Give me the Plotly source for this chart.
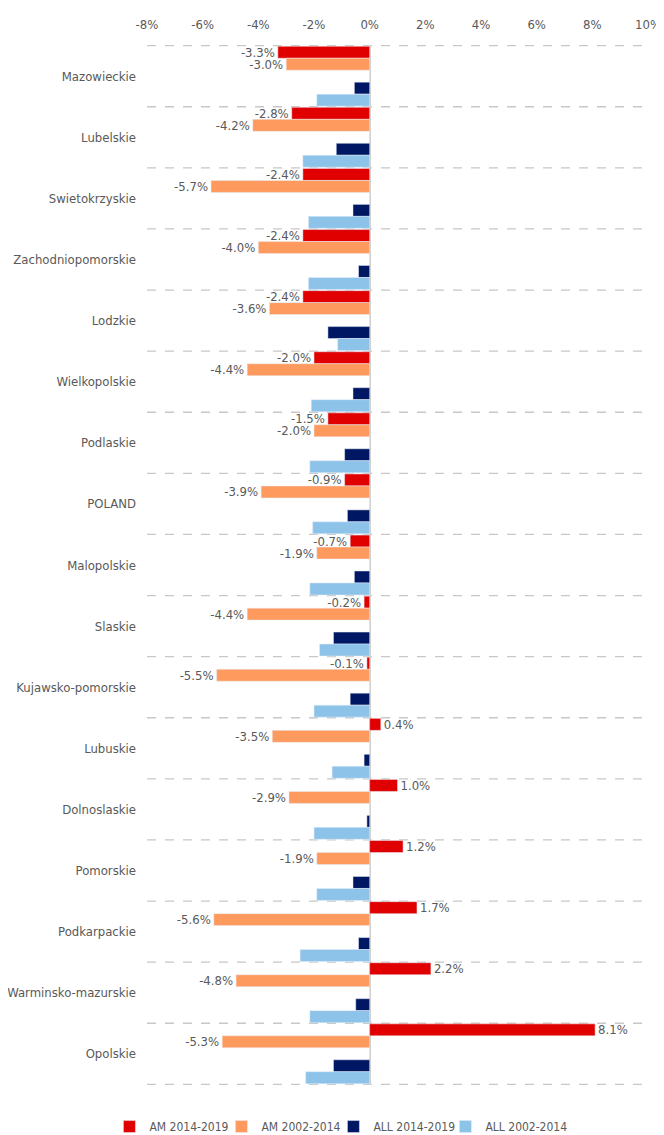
import plotly.graph_objects as go

regions = ["Mazowieckie", "Lubelskie", "Swietokrzyskie", "Zachodniopomorskie", "Lodzkie",
           "Wielkopolskie", "Podlaskie", "POLAND", "Malopolskie", "Slaskie",
           "Kujawsko-pomorskie", "Lubuskie", "Dolnoslaskie", "Pomorskie", "Podkarpackie",
           "Warminsko-mazurskie", "Opolskie"]

am_2014_2019 = [-3.3, -2.8, -2.4, -2.4, -2.4, -2.0, -1.5, -0.9, -0.7, -0.2, -0.1, 0.4, 1.0, 1.2, 1.7, 2.2, 8.1]
am_2002_2014 = [-3.0, -4.2, -5.7, -4.0, -3.6, -4.4, -2.0, -3.9, -1.9, -4.4, -5.5, -3.5, -2.9, -1.9, -5.6, -4.8, -5.3]
all_2014_2019 = [-0.55, -1.2, -0.6, -0.4, -1.5, -0.6, -0.9, -0.8, -0.55, -1.3, -0.7, -0.2, -0.1, -0.6, -0.4, -0.5, -1.3]
all_2002_2014 = [-1.9, -2.4, -2.2, -2.2, -1.15, -2.1, -2.15, -2.05, -2.15, -1.8, -2.0, -1.35, -2.0, -1.9, -2.5, -2.15, -2.3]

tick_vals = [-8, -6, -4, -2, 0, 2, 4, 6, 8, 10]
tick_text = ["-8%", "-6%", "-4%", "-2%", "0%", "2%", "4%", "6%", "8%", "10%"]

FONT = "DejaVu Sans Condensed, Liberation Sans Narrow, sans-serif"
TXT = "#595959"

def fmt(v):
    return f"{v:.1f}%"

fig = go.Figure()
fig.add_trace(go.Bar(y=regions, x=am_2014_2019, orientation="h", name="AM 2014-2019",
                     marker_color="#E00000", text=[fmt(v) for v in am_2014_2019],
                     textposition="outside", constraintext="none", cliponaxis=False,
                     textfont=dict(size=13, color=TXT, family=FONT)))
fig.add_trace(go.Bar(y=regions, x=am_2002_2014, orientation="h", name="AM 2002-2014",
                     marker_color="#FF9A5E", text=[fmt(v) for v in am_2002_2014],
                     textposition="outside", constraintext="none", cliponaxis=False,
                     textfont=dict(size=13, color=TXT, family=FONT)))
# empty spacer series (blank slot between AM and ALL pairs)
fig.add_trace(go.Bar(y=regions, x=[0] * len(regions), orientation="h", name="",
                     marker_color="rgba(0,0,0,0)", showlegend=False, hoverinfo="skip"))
fig.add_trace(go.Bar(y=regions, x=all_2014_2019, orientation="h", name="ALL 2014-2019",
                     marker_color="#001763"))
fig.add_trace(go.Bar(y=regions, x=all_2002_2014, orientation="h", name="ALL 2002-2014",
                     marker_color="#8DC3E9"))
# invisible legend filler so the last legend label is not clipped
fig.add_trace(go.Scatter(x=[None], y=[None], mode="markers", name="",
                         marker=dict(color="rgba(0,0,0,0)"), hoverinfo="skip"))

shapes = []
for i in range(len(regions) + 1):
    shapes.append(dict(type="line", xref="x", yref="y", x0=-8, x1=10, y0=i - 0.5, y1=i - 0.5,
                       line=dict(color="#C8C8C8", width=1.3, dash="dash"), layer="below"))

fig.update_layout(
    width=656, height=1127,
    barmode="group", bargap=0.02, bargroupgap=0,
    plot_bgcolor="white", paper_bgcolor="white",
    margin=dict(l=139, r=16, t=37, b=50, autoexpand=False),
    font=dict(family=FONT, color=TXT, size=13),
    shapes=shapes,
    showlegend=True,
    legend=dict(orientation="h", x=-0.075, xanchor="left", y=-0.026, yanchor="top",
                font=dict(size=12, color=TXT, family=FONT), itemwidth=30,
                entrywidth=67, entrywidthmode="pixels", traceorder="normal"),
    xaxis=dict(side="top", range=[-8, 10], tickvals=tick_vals, ticktext=tick_text, showgrid=False,
               zeroline=True, zerolinecolor="#D0D0D0", zerolinewidth=1.5, automargin=False,
               showline=False, ticks="", ticklabelstandoff=12,
               tickfont=dict(size=13, color=TXT, family=FONT)),
    yaxis=dict(autorange="reversed", showgrid=False, ticks="", showline=False, automargin=False,
               tickfont=dict(size=13, color=TXT, family=FONT), ticklabelstandoff=10),
)

fig.write_html("out.html")
